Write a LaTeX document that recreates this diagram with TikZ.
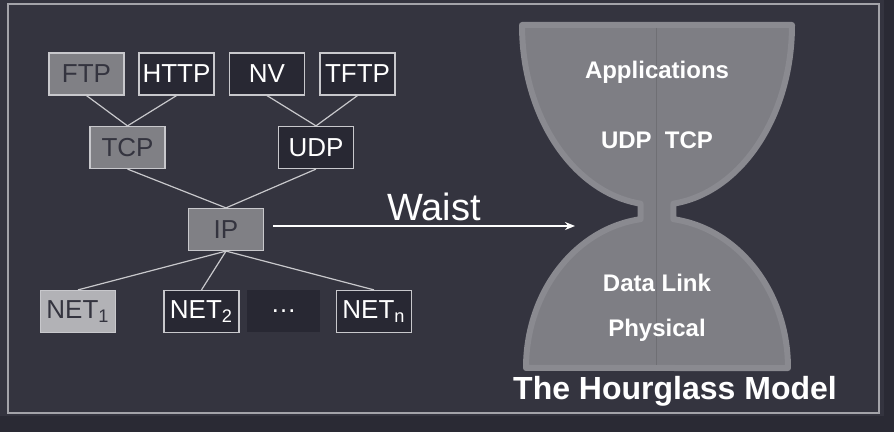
\documentclass[tikz,border=0pt]{standalone}
\usepackage{fontspec}
\setmainfont{Liberation Sans}
\usetikzlibrary{arrows.meta}

\definecolor{bgout}{RGB}{42,42,52}
\definecolor{bgin}{RGB}{52,52,63}
\definecolor{boxdark}{RGB}{40,40,51}
\definecolor{boxgray}{RGB}{128,128,133}
\definecolor{boxlight}{RGB}{178,178,182}
\definecolor{edgegray}{RGB}{200,200,204}
\definecolor{hgfill}{RGB}{126,126,132}
\definecolor{hgrim}{RGB}{138,138,144}

\tikzset{
  every node/.style={inner sep=0pt, font=\fontsize{13}{15}\selectfont},
  netbox/.style={rectangle, draw=edgegray, line width=0.6pt, minimum width=37.5pt, minimum height=21pt},
  graybox/.style={netbox, fill=boxgray, text=bgin},
  darkbox/.style={netbox, fill=boxdark, text=white},
  lightbox/.style={netbox, fill=boxlight, text=bgin},
  link/.style={draw=edgegray, line width=0.6pt},
  hglabel/.style={text=white, font=\bfseries\fontsize{12}{14}\selectfont}
}

\begin{document}
\begin{tikzpicture}[x=0.5pt, y=0.5pt]
			% Background and frame
			\useasboundingbox (0,0) rectangle (894,432);
			\fill[bgout] (0,0) rectangle (894,432);
			\fill[bgin] (0,16) rectangle (884,432);
			\draw[draw=edgegray!75!bgin, line width=0.6pt] (8,19) rectangle (879,428);
			
			% Protocol boxes
			\node[graybox] (FTP) at (86.5,358) {FTP};
			\node[darkbox] (HTTP) at (176.5,358) {HTTP};
			\node[darkbox] (NV) at (267,358) {NV};
			\node[darkbox] (TFTP) at (357.5,358) {TFTP};
			
			\node[graybox] (TCP) at (127.5,284.5) {TCP};
			\node[darkbox] (UDP) at (316,284.5) {UDP};
			
			\node[graybox] (IP) at (226,202.5) {IP};
			
			\node[lightbox] (NET1) at (78,120.5) {NET\textsubscript{1}};
			\node[darkbox] (NET2) at (201.5,120.5) {NET\textsubscript{2}};
			\node[netbox, draw=none, fill=boxdark, text=white, minimum width=36.5pt] (dots) at (283.5,120.5) {\dots};
			\node[darkbox] (NETn) at (374,120.5) {NET\textsubscript{n}};
			
			% Edges between layers
			\draw[link] (FTP.south) -- (TCP.north);
			\draw[link] (HTTP.south) -- (TCP.north);
			\draw[link] (NV.south) -- (UDP.north);
			\draw[link] (TFTP.south) -- (UDP.north);
			
			\draw[link] (TCP.south) -- (IP.north);
			\draw[link] (UDP.south) -- (IP.north);
			
			\draw[link] (IP.south) -- (NET1.north);
			\draw[link] (IP.south) -- (NET2.north);
			\draw[link] (IP.south) -- (NETn.north);
			
			% Waist arrow
			\coordinate (neck) at (575,206);
			\draw[white, line width=1.1pt, -{Stealth[length=5pt, width=4pt]}] (IP.east) ++(9,3.5) -- (neck);
			\node[text=white, font=\fontsize{19}{22}\selectfont] (W) at (434,225) {Waist};
			
			% Hourglass
			\filldraw[fill=hgfill, draw=hgrim, line width=3pt, line join=round]
			  (522,407) -- (792,407)
			  arc[start angle=0, end angle=-83, x radius=67.5pt, y radius=90pt]
			  -- (673.4,212.8)
			  arc[start angle=82.8, end angle=0, x radius=65.5pt, y radius=75pt]
			  -- (526,64)
			  arc[start angle=180, end angle=97.2, x radius=65.5pt, y radius=75pt]
			  -- (640.55,228.3)
			  arc[start angle=263, end angle=180, x radius=67.5pt, y radius=90pt]
			  -- cycle;
			\draw[hgfill!88!black, line width=0.4pt] (656,404) -- (656,67);
			
			\node[hglabel] (App) at (657,360) {Applications};
			\node[hglabel] (Trans) at (657,292) {UDP\ \ TCP};
			\node[hglabel] (DL) at (657,149) {Data Link};
			\node[hglabel] (Phys) at (657,102) {Physical};
			
			\node[text=white, font=\bfseries\fontsize{16}{19}\selectfont] (title) at (675,41) {The Hourglass Model};
		\end{tikzpicture}
\end{document}
